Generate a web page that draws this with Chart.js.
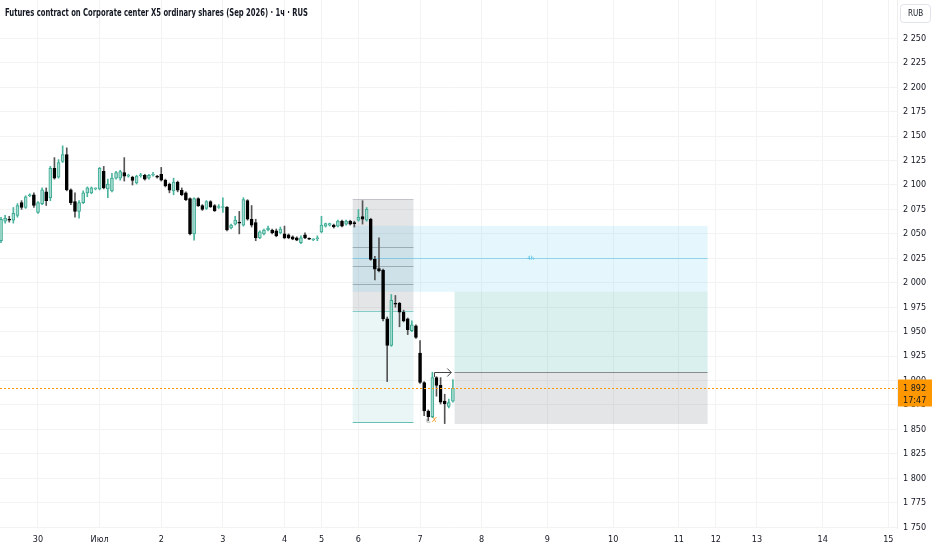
<!DOCTYPE html>
<html>
<head>
<meta charset="utf-8">
<script src="https://cdn.jsdelivr.net/npm/chart.js@4.4.1/dist/chart.umd.min.js"></script>
<style>
  html, body { margin: 0; padding: 0; background: #fff; }
  #wrap { width: 932px; height: 550px; position: relative; }
</style>
</head>
<body>
<div id="wrap"><canvas id="chart"></canvas></div>
<script>
const title = "Futures contract on Corporate center X5 ordinary shares (Sep 2026) · 1ч · RUS";
const currency = "RUB";

// hourly candles, bar index 0 = last hours of 29 June
const opens = [
  2043, 2063, 2065, 2064, 2069, 2082, 2077, 2089, 2090, 2072,
  2081, 2093, 2087, 2117, 2108, 2124, 2131, 2095, 2083, 2073,
  2082, 2092, 2092, 2096, 2096, 2114, 2096, 2094, 2107, 2107,
  2112.6, 2109, 2108, 2102, 2109.5, 2110, 2107, 2110, 2109, 2111,
  2105, 2101, 2094, 2103, 2094.6, 2092, 2086, 2050, 2086, 2079,
  2076, 2083, 2079, 2077, 2077, 2077.5, 2056, 2060, 2062, 2059,
  2084, 2065, 2061.5, 2046, 2050, 2054, 2054, 2053, 2051, 2050,
  2049, 2047, 2046, 2041, 2049, 2045, 2044, 2045, 2052, 2058,
  2059, 2059, 2058, 2063, 2060, 2063, 2061, 2064, 2067.7, 2064,
  2065, 2024, 2014.6, 2013, 1963, 1936, 1979, 1979, 1970, 1963,
  1951, 1956, 1928, 1898, 1868.7, 1863, 1903, 1895, 1879, 1873.5,
  1879
];
const highs = [
  2067, 2069, 2068, 2077, 2081, 2084, 2089, 2091, 2092, 2083,
  2097, 2097, 2119, 2128, 2126, 2140, 2138, 2096, 2092, 2084,
  2094, 2098, 2098, 2097, 2118, 2119, 2106, 2112, 2114, 2115,
  2128, 2111, 2109, 2110, 2112, 2111, 2111, 2113, 2110, 2118,
  2106, 2102, 2107, 2104, 2097, 2093, 2087, 2087, 2087, 2080,
  2084, 2084, 2080, 2080, 2087, 2078, 2060, 2068, 2073, 2087,
  2085, 2079, 2065, 2053, 2055, 2058, 2055, 2055, 2057, 2058,
  2050, 2048, 2047, 2048, 2051, 2046, 2045, 2048, 2068, 2061,
  2061, 2060, 2064, 2064, 2064, 2064, 2063, 2075, 2084, 2077,
  2066, 2027, 2046, 2014, 1965, 1988, 1987, 1980, 1972, 1964,
  1961, 1957, 1941, 1899, 1870, 1908.5, 1904, 1903, 1886, 1881,
  1901
];
const lows = [
  2041, 2061, 2062, 2061, 2067, 2075, 2076, 2088, 2077, 2071,
  2080, 2079, 2084, 2106, 2107, 2123, 2094, 2080, 2067, 2066,
  2081, 2088, 2091, 2095, 2095, 2096, 2087, 2093, 2106, 2105,
  2104, 2108, 2100, 2101, 2108, 2105, 2106, 2109, 2107, 2104,
  2098, 2092, 2090, 2093, 2089, 2084, 2049, 2043.6, 2078, 2074,
  2075, 2077, 2073, 2076, 2072, 2053, 2055, 2059, 2050, 2058,
  2064, 2057, 2043, 2045, 2049, 2053, 2050, 2047, 2050, 2045,
  2045, 2044, 2043, 2040, 2045, 2044, 2043, 2043, 2051, 2057,
  2058, 2056, 2057, 2057, 2059, 2059, 2057, 2063, 2060, 2063,
  2023, 2003, 2011, 1961, 1899, 1935, 1975, 1955, 1960, 1947,
  1950, 1943, 1897, 1864, 1859, 1862, 1884, 1876, 1856, 1872,
  1878
];
const closes = [
  2065, 2066, 2064, 2071, 2079, 2077, 2088, 2090, 2079, 2082,
  2095, 2084, 2117, 2107, 2123, 2131, 2095, 2082, 2073, 2082,
  2092, 2097, 2097, 2096.5, 2117, 2097, 2101, 2107, 2112.6, 2113.6,
  2109, 2109.5, 2104.6, 2109, 2110, 2106, 2110, 2110.5, 2108, 2105,
  2099, 2094.6, 2103, 2094.6, 2090, 2085, 2050, 2086, 2078.6, 2075,
  2083, 2077.5, 2073.5, 2078, 2078, 2054, 2059, 2064, 2061, 2085,
  2065, 2059, 2046, 2052, 2054, 2056, 2051, 2048, 2055, 2046,
  2046, 2044.6, 2043.6, 2046, 2046, 2044.5, 2044.5, 2046, 2059, 2060.5,
  2060.5, 2057, 2063, 2058, 2063, 2060, 2060.5, 2067, 2065, 2075,
  2024, 2014, 2012, 1963, 1936, 1982, 1978, 1970, 1961, 1952,
  1957, 1944, 1898, 1869, 1863, 1903, 1895, 1878, 1876, 1877.5,
  1892
];

// date axis: bars before the first label, then bars in each labelled day
const leadBars = 9;
const dayLabels = ["30", "Июл", "2", "3", "4", "5", "6", "7", "8", "9", "10", "11", "12", "13", "14", "15"];
const dayBars = [15, 15, 15, 15, 9, 9, 15, 15, 16, 16, 16, 9, 10, 16, 16, 16];
const priceTicks = [1750, 1775, 1800, 1825, 1850, 1875, 1900, 1925, 1950, 1975,
  2000, 2025, 2050, 2075, 2100, 2125, 2150, 2175, 2200, 2225, 2250];

// drawing tools (bar index / price)
const shortPos = { from: 85.6, to: 100.4, stop: 2085.4, entry: 1971.4, target: 1857.4 };
const shortLevels = [2036.7, 2017.3, 1998.7];
const range4h = { from: 85.6, to: 172, top: 2058.2, bottom: 1990.8, mid: 2025, label: "4h", labelAt: 128.9 };
const longPos = { from: 110.4, to: 172, target: 1990.8, entry: 1908.6, stop: 1855.6 };
const arrowPath = { x0: 105.5, y0: 1903.6, x1: 109.6, y1: 1908.6 };
const markX = { x: 105.5, y: 1859, text: "x" };
const lastPrice = 1892;
const countdown = "17:47";

const dayStarts = [];
let acc = leadBars;
dayBars.forEach(n => { dayStarts.push(acc); acc += n; });

const fmt = v => String(v).replace(/\B(?=(\d{3})+(?!\d))/g, " ");
const isUp = i => closes[i] >= opens[i];

const bodies = opens.map((o, i) => ({ x: i, y: [o, closes[i]] }));
const wicks = opens.map((o, i) => ({ x: i, y: [lows[i], highs[i]] }));

const FONT = "'Liberation Sans Narrow', 'DejaVu Sans Condensed', 'Liberation Sans', sans-serif";
const TEXT = "#131722";

const drawings = {
  id: "drawings",
  beforeDatasetsDraw(chart) {
    const { ctx, chartArea } = chart;
    const x = chart.scales.x, y = chart.scales.y;
    const X = v => x.getPixelForValue(v), Y = v => y.getPixelForValue(v);
    const rect = (x0, x1, y0, y1, fill) => {
      ctx.fillStyle = fill;
      ctx.fillRect(X(x0), Y(y0), X(x1) - X(x0), Y(y1) - Y(y0));
    };
    const hline = (x0, x1, v, color) => {
      ctx.strokeStyle = color;
      ctx.lineWidth = 1;
      ctx.beginPath();
      ctx.moveTo(X(x0), Math.round(Y(v)) + 0.5);
      ctx.lineTo(X(x1), Math.round(Y(v)) + 0.5);
      ctx.stroke();
    };
    ctx.save();
    ctx.beginPath();
    ctx.rect(chartArea.left, chartArea.top, chartArea.width, chartArea.height);
    ctx.clip();

    // short position on the left
    rect(shortPos.from, shortPos.to, shortPos.stop, shortPos.entry, "rgba(120,123,134,0.2)");
    rect(shortPos.from, shortPos.to, shortPos.entry, shortPos.target, "rgba(38,166,154,0.1)");
    hline(shortPos.from, shortPos.to, shortPos.stop, "rgba(120,123,134,0.35)");
    shortLevels.forEach(v => hline(shortPos.from, shortPos.to, v, "rgba(90,90,90,0.45)"));
    hline(shortPos.from, shortPos.to, shortPos.entry, "rgba(38,166,154,0.5)");
    hline(shortPos.from, shortPos.to, shortPos.target, "rgba(38,166,154,0.7)");

    // 4h range box
    rect(range4h.from, range4h.to, range4h.top, range4h.bottom, "rgba(100,200,235,0.17)");
    hline(range4h.from, range4h.to, range4h.mid, "rgba(80,190,225,0.55)");
    ctx.fillStyle = "#4fbfe3";
    ctx.font = "6px " + FONT;
    ctx.textAlign = "center";
    ctx.textBaseline = "middle";
    ctx.fillText(range4h.label, X(range4h.labelAt), Y(range4h.mid));

    // long position on the right
    rect(longPos.from, longPos.to, longPos.target, longPos.entry, "rgba(38,166,154,0.17)");
    rect(longPos.from, longPos.to, longPos.entry, longPos.stop, "rgba(120,123,134,0.2)");
    hline(longPos.from, longPos.to, longPos.entry, "rgba(80,80,80,0.6)");

    // arrow
    const ax0 = Math.round(X(arrowPath.x0)) + 0.5, ay0 = Y(arrowPath.y0);
    const ax1 = X(arrowPath.x1), ay1 = Math.round(Y(arrowPath.y1)) + 0.5;
    ctx.strokeStyle = "#444";
    ctx.lineWidth = 1;
    ctx.beginPath();
    ctx.moveTo(ax0, ay0);
    ctx.lineTo(ax0, ay1);
    ctx.lineTo(ax1, ay1);
    ctx.moveTo(ax1 - 4, ay1 - 4);
    ctx.lineTo(ax1, ay1);
    ctx.lineTo(ax1 - 4, ay1 + 4);
    ctx.stroke();

    // marker
    ctx.strokeStyle = "#b0b0b0";
    ctx.beginPath();
    ctx.moveTo(X(markX.x) - 7.5, Y(markX.y) - 2);
    ctx.lineTo(X(markX.x) - 7.5, Y(markX.y) + 1.5);
    ctx.lineTo(X(markX.x) - 4, Y(markX.y) + 1.5);
    ctx.stroke();
    ctx.fillStyle = "#f0a030";
    ctx.font = "italic 9px " + FONT;
    ctx.fillText(markX.text, X(markX.x), Y(markX.y) - 1);
    ctx.restore();
  },
  afterDraw(chart) {
    const { ctx, chartArea } = chart;
    const y = chart.scales.y;
    const py = Math.round(y.getPixelForValue(lastPrice)) + 0.5;
    ctx.save();
    // last price line
    ctx.strokeStyle = "#ff9800";
    ctx.lineWidth = 1;
    ctx.setLineDash([2, 2]);
    ctx.beginPath();
    ctx.moveTo(chartArea.left, py);
    ctx.lineTo(chartArea.right, py);
    ctx.stroke();
    ctx.setLineDash([]);
    // price label on the axis
    ctx.fillStyle = "#ff9800";
    ctx.fillRect(chartArea.right + 1, py - 9, 34, 27);
    ctx.fillStyle = TEXT;
    ctx.font = "9px " + FONT;
    ctx.textAlign = "left";
    ctx.textBaseline = "middle";
    ctx.fillText(fmt(lastPrice), chartArea.right + 6, py);
    ctx.fillText(countdown, chartArea.right + 6, py + 12);
    // currency box
    ctx.strokeStyle = "#e0e3eb";
    ctx.fillStyle = "#fff";
    ctx.beginPath();
    ctx.roundRect(chartArea.right + 3.5, 4.5, 30, 18, 3);
    ctx.fill();
    ctx.stroke();
    ctx.fillStyle = TEXT;
    ctx.font = "8px " + FONT;
    ctx.textAlign = "center";
    ctx.fillText(currency, chartArea.right + 18.5, 13.5);
    // title: narrow, tall lettering squeezed to the width it has in the original
    ctx.font = "bold 10px " + FONT;
    ctx.textAlign = "left";
    const k = 303 / ctx.measureText(title).width;
    ctx.translate(5, 13);
    ctx.scale(k, 1);
    ctx.fillText(title, 0, 0);
    ctx.restore();
  }
};

new Chart(document.getElementById("chart"), {
  type: "bar",
  data: {
    datasets: [
      {
        label: "body",
        data: bodies,
        grouped: false,
        barThickness: 3,
        minBarLength: 1,
        borderWidth: 1,
        borderSkipped: false,
        backgroundColor: ctx => isUp(ctx.dataIndex) ? "#a6dccf" : "#000000",
        borderColor: ctx => isUp(ctx.dataIndex) ? "#3aa892" : "#000000"
      },
      {
        label: "wick",
        data: wicks,
        grouped: false,
        barThickness: 1,
        borderWidth: 0,
        backgroundColor: ctx => isUp(ctx.dataIndex) ? "#4bb59f" : "#555555"
      }
    ]
  },
  options: {
    responsive: true,
    maintainAspectRatio: false,
    animation: false,
    events: [],
    layout: { padding: 0 },
    plugins: { legend: { display: false }, tooltip: { enabled: false } },
    scales: {
      x: {
        type: "linear",
        min: -0.25,
        max: 218.1,
        offset: false,
        afterBuildTicks: s => { s.ticks = dayStarts.map(v => ({ value: v })); },
        afterFit: s => { s.height = 22; s.paddingLeft = 0; s.paddingRight = 0; },
        ticks: {
          autoSkip: false,
          maxRotation: 0,
          padding: 6,
          color: TEXT,
          font: { family: FONT, size: 9 },
          callback: (v, i) => dayLabels[i]
        },
        grid: { color: "#f3f3f3", drawTicks: false, offset: false },
        border: { display: false }
      },
      y: {
        position: "right",
        min: 1749.2,
        max: 2289.2,
        afterBuildTicks: s => { s.ticks = priceTicks.map(v => ({ value: v })); },
        afterFit: s => { s.width = 35; s.paddingTop = 0; s.paddingBottom = 0; },
        ticks: {
          padding: 6,
          color: TEXT,
          font: { family: FONT, size: 9 },
          callback: v => fmt(v)
        },
        grid: { color: "#f3f3f3", drawTicks: false },
        border: { display: true, color: "#eeeeee" }
      }
    }
  },
  plugins: [drawings]
});
</script>
</body>
</html>
